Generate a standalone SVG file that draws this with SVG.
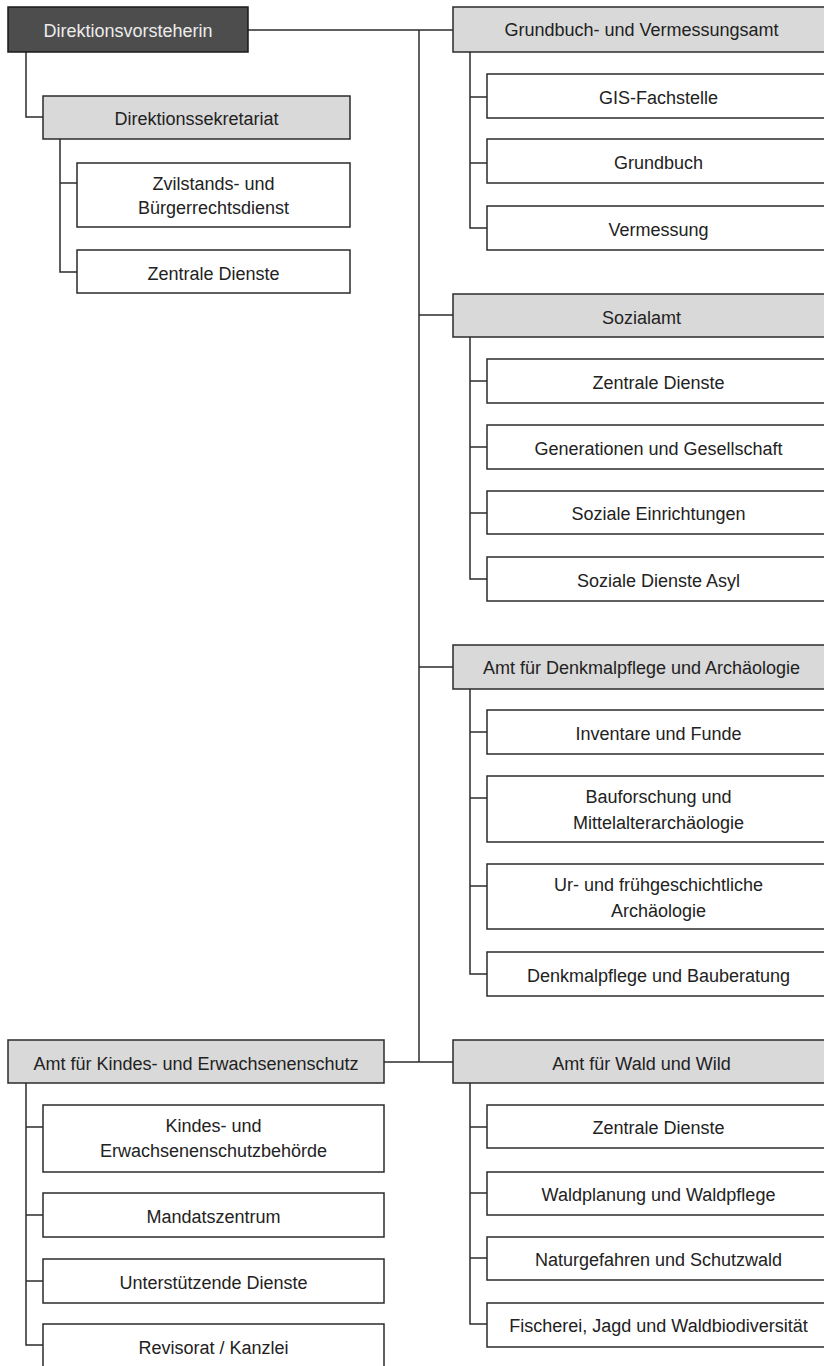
<svg xmlns="http://www.w3.org/2000/svg" width="824" height="1366" viewBox="0 0 824 1366">
<style>
  .box { fill: #ffffff; stroke: #2b2b2b; stroke-width: 1.5; }
  .amt { fill: #d9d9d9; stroke: #2b2b2b; stroke-width: 1.5; }
  .top { fill: #4d4d4d; stroke: #1a1a1a; stroke-width: 1.5; }
  .t { font-family: "Liberation Sans", Arial, sans-serif; font-size: 18px; fill: #222222; text-anchor: middle; }
  .tw { fill: #ececec; }
  .con { fill: none; stroke: #2b2b2b; stroke-width: 1.5; }
</style>
<rect x="0" y="0" width="824" height="1366" fill="#ffffff"/>

<g id="connectors" class="con">
  <path d="M248 30 H453"/>
  <path d="M419 30 V1062"/>
  <path d="M419 315 H453"/>
  <path d="M419 667 H453"/>
  <path d="M384 1062 H453"/>
  <path d="M26 52 V117 H43"/>
  <path d="M60 139 V272 H77"/>
  <path d="M60 183 H77"/>
  <path d="M470 52 V228 H487"/>
  <path d="M470 97 H487"/>
  <path d="M470 163 H487"/>
  <path d="M470 337 V579 H487"/>
  <path d="M470 381 H487"/>
  <path d="M470 447 H487"/>
  <path d="M470 513 H487"/>
  <path d="M470 689 V974 H487"/>
  <path d="M470 732 H487"/>
  <path d="M470 798 H487"/>
  <path d="M470 886 H487"/>
  <path d="M470 1083 V1324 H487"/>
  <path d="M470 1127 H487"/>
  <path d="M470 1193 H487"/>
  <path d="M470 1258 H487"/>
  <path d="M26 1083 V1345 H43"/>
  <path d="M26 1127 H43"/>
  <path d="M26 1215 H43"/>
  <path d="M26 1281 H43"/>
</g>

<g id="direktionsvorsteherin"><rect class="top" x="8" y="7" width="240" height="45"/><text class="t tw" x="128" y="37">Direktionsvorsteherin</text></g>

<g id="direktionssekretariat"><rect class="amt" x="43" y="96" width="307" height="43"/><text class="t" x="196.5" y="125">Direktionssekretariat</text></g>
<g id="zivilstand"><rect class="box" x="77" y="163" width="273" height="64"/><text class="t" x="213.5" y="190">Zvilstands- und</text><text class="t" x="213.5" y="214">Bürgerrechtsdienst</text></g>
<g id="ds-zentrale"><rect class="box" x="77" y="250" width="273" height="43"/><text class="t" x="213.5" y="280">Zentrale Dienste</text></g>

<g id="grundbuchamt"><rect class="amt" x="453" y="7" width="377" height="45"/><text class="t" x="641.5" y="36">Grundbuch- und Vermessungsamt</text></g>
<g id="gis"><rect class="box" x="487" y="74" width="343" height="44"/><text class="t" x="658.5" y="104">GIS-Fachstelle</text></g>
<g id="grundbuch"><rect class="box" x="487" y="139" width="343" height="44"/><text class="t" x="658.5" y="169">Grundbuch</text></g>
<g id="vermessung"><rect class="box" x="487" y="206" width="343" height="44"/><text class="t" x="658.5" y="236">Vermessung</text></g>

<g id="sozialamt"><rect class="amt" x="453" y="294" width="377" height="43"/><text class="t" x="641.5" y="324">Sozialamt</text></g>
<g id="sa-zentrale"><rect class="box" x="487" y="359" width="343" height="44"/><text class="t" x="658.5" y="389">Zentrale Dienste</text></g>
<g id="generationen"><rect class="box" x="487" y="425" width="343" height="44"/><text class="t" x="658.5" y="455">Generationen und Gesellschaft</text></g>
<g id="einrichtungen"><rect class="box" x="487" y="491" width="343" height="43"/><text class="t" x="658.5" y="520">Soziale Einrichtungen</text></g>
<g id="asyl"><rect class="box" x="487" y="557" width="343" height="44"/><text class="t" x="658.5" y="587">Soziale Dienste Asyl</text></g>

<g id="denkmalamt"><rect class="amt" x="453" y="645" width="377" height="44"/><text class="t" x="641.5" y="674">Amt für Denkmalpflege und Archäologie</text></g>
<g id="inventare"><rect class="box" x="487" y="710" width="343" height="44"/><text class="t" x="658.5" y="740">Inventare und Funde</text></g>
<g id="bauforschung"><rect class="box" x="487" y="776" width="343" height="66"/><text class="t" x="658.5" y="803">Bauforschung und</text><text class="t" x="658.5" y="829">Mittelalterarchäologie</text></g>
<g id="urgeschichte"><rect class="box" x="487" y="864" width="343" height="65"/><text class="t" x="658.5" y="891">Ur- und frühgeschichtliche</text><text class="t" x="658.5" y="917">Archäologie</text></g>
<g id="bauberatung"><rect class="box" x="487" y="952" width="343" height="44"/><text class="t" x="658.5" y="982">Denkmalpflege und Bauberatung</text></g>

<g id="kesamt"><rect class="amt" x="8" y="1040" width="376" height="43"/><text class="t" x="196" y="1070">Amt für Kindes- und Erwachsenenschutz</text></g>
<g id="kesb"><rect class="box" x="43" y="1105" width="341" height="67"/><text class="t" x="213.5" y="1132">Kindes- und</text><text class="t" x="213.5" y="1157">Erwachsenenschutzbehörde</text></g>
<g id="mandatszentrum"><rect class="box" x="43" y="1193" width="341" height="44"/><text class="t" x="213.5" y="1223">Mandatszentrum</text></g>
<g id="unterstuetzende"><rect class="box" x="43" y="1259" width="341" height="44"/><text class="t" x="213.5" y="1289">Unterstützende Dienste</text></g>
<g id="revisorat"><rect class="box" x="43" y="1324" width="341" height="46"/><text class="t" x="213.5" y="1354">Revisorat / Kanzlei</text></g>

<g id="waldamt"><rect class="amt" x="453" y="1040" width="377" height="43"/><text class="t" x="641.5" y="1070">Amt für Wald und Wild</text></g>
<g id="ww-zentrale"><rect class="box" x="487" y="1105" width="343" height="43"/><text class="t" x="658.5" y="1134">Zentrale Dienste</text></g>
<g id="waldplanung"><rect class="box" x="487" y="1172" width="343" height="43"/><text class="t" x="658.5" y="1201">Waldplanung und Waldpflege</text></g>
<g id="naturgefahren"><rect class="box" x="487" y="1237" width="343" height="43"/><text class="t" x="658.5" y="1266">Naturgefahren und Schutzwald</text></g>
<g id="fischerei"><rect class="box" x="487" y="1303" width="343" height="44"/><text class="t" x="658.5" y="1332">Fischerei, Jagd und Waldbiodiversität</text></g>
</svg>
